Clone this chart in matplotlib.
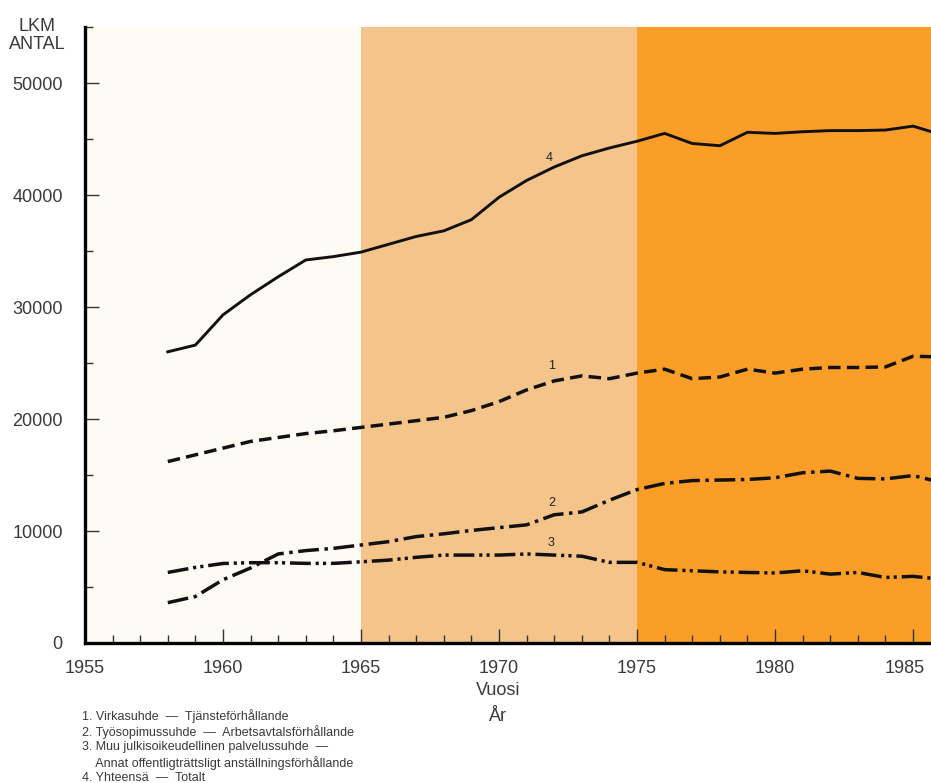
import matplotlib.pyplot as plt
from matplotlib.ticker import MultipleLocator
from matplotlib.transforms import ScaledTranslation

# data (persons per year)
years = list(range(1958, 1987))

virka = [16200, 16800, 17400, 18000, 18350, 18700, 18950, 19250, 19550, 19850,
         20150, 20750, 21550, 22600, 23400, 23850, 23600, 24100, 24450, 23600,
         23750, 24450, 24100, 24450, 24600, 24600, 24650, 25600, 25550]
tyo = [3600, 4150, 5650, 6700, 7950, 8250, 8450, 8750, 9050, 9500,
       9750, 10050, 10300, 10550, 11450, 11700, 12750, 13700, 14250, 14500,
       14550, 14600, 14750, 15200, 15350, 14700, 14650, 14950, 14350]
muu = [6300, 6750, 7100, 7170, 7170, 7110, 7110, 7250, 7400, 7650,
       7850, 7850, 7850, 7950, 7850, 7750, 7200, 7200, 6550, 6450,
       6350, 6300, 6250, 6450, 6150, 6300, 5850, 5950, 5700]
total = [26000, 26600, 29300, 31100, 32700, 34200, 34500, 34900, 35600, 36300,
         36800, 37800, 39800, 41300, 42500, 43500, 44200, 44800, 45500, 44600,
         44400, 45600, 45500, 45650, 45750, 45750, 45800, 46150, 45400]

series_labels = ['1', '2', '3', '4']
label_year = [1971.9, 1971.9, 1971.9, 1971.8]
label_value = [24700, 12500, 8900, 43300]

legend_lines = [
    '1. Virkasuhde  —  Tjänsteförhållande',
    '2. Työsopimussuhde  —  Arbetsavtalsförhållande',
    '3. Muu julkisoikeudellinen palvelussuhde  —',
    '    Annat offentligträttsligt anställningsförhållande',
    '4. Yhteensä  —  Totalt',
]

plt.rcParams['font.family'] = ['Liberation Sans', 'DejaVu Sans']
text_col = '#3a3a3a'

fig = plt.figure(figsize=(9.31, 7.83), dpi=100)
fig.patch.set_facecolor('white')
ax = fig.add_axes([0.0913, 0.1788, 0.9087, 0.7867])
ax.set_facecolor('#fefbf4')

ax.set_xlim(1955, 1985.65)
ax.set_ylim(0, 55000)

# period shading
ax.axvspan(1965, 1975, color='#f5c48b', lw=0, zorder=0)
ax.axvspan(1975, 1990, color='#fa9e28', lw=0, zorder=0)

ax.plot(years, total, color='#111111', lw=2.1, solid_joinstyle='round')
ax.plot(years, virka, color='#111111', lw=2.5, linestyle=(0, (3.6, 1.8)))
ax.plot(years, tyo, color='#111111', lw=2.5, linestyle=(0, (6, 1.6, 1, 1.6)))
ax.plot(years, muu, color='#111111', lw=2.5,
        linestyle=(0, (6, 1.4, 0.9, 1.2, 0.9, 1.4)))

for lab, x, y in zip(series_labels, label_year, label_value):
    ax.text(x, y, lab, fontsize=9, color='#222222', ha='center', va='center')

for side in ['top', 'right']:
    ax.spines[side].set_visible(False)
ax.spines['left'].set_linewidth(2.4)
ax.spines['bottom'].set_linewidth(2.4)

ax.xaxis.set_major_locator(MultipleLocator(5))
ax.xaxis.set_minor_locator(MultipleLocator(1))
ax.yaxis.set_major_locator(MultipleLocator(10000))
ax.yaxis.set_minor_locator(MultipleLocator(5000))
ax.tick_params(axis='both', which='major', direction='in', length=10, width=1,
               color='#333333', labelsize=13, labelcolor=text_col)
ax.tick_params(axis='both', which='minor', direction='in', length=6, width=1,
               color='#333333')
ax.tick_params(axis='x', which='major', pad=12)
ax.tick_params(axis='y', which='major', pad=16)

# last year label sits a little left so it stays inside the page
fig.canvas.draw()
for t in ax.get_xticklabels():
    if t.get_text() == '1985':
        t.set_transform(t.get_transform() + ScaledTranslation(-6 / 72, 0, fig.dpi_scale_trans))

fig.text(0.04, 0.955, 'LKM\nANTAL', fontsize=13, color=text_col,
         ha='center', va='center', linespacing=1.1)
fig.text(0.535, 0.118, 'Vuosi', fontsize=13, color=text_col, ha='center', va='center')
fig.text(0.535, 0.085, 'År', fontsize=13, color=text_col, ha='center', va='center')

fig.text(0.088, 0.095, '\n'.join(legend_lines), fontsize=9, color=text_col,
         ha='left', va='top', linespacing=1.25)

fig.savefig('out.png', dpi=100)
